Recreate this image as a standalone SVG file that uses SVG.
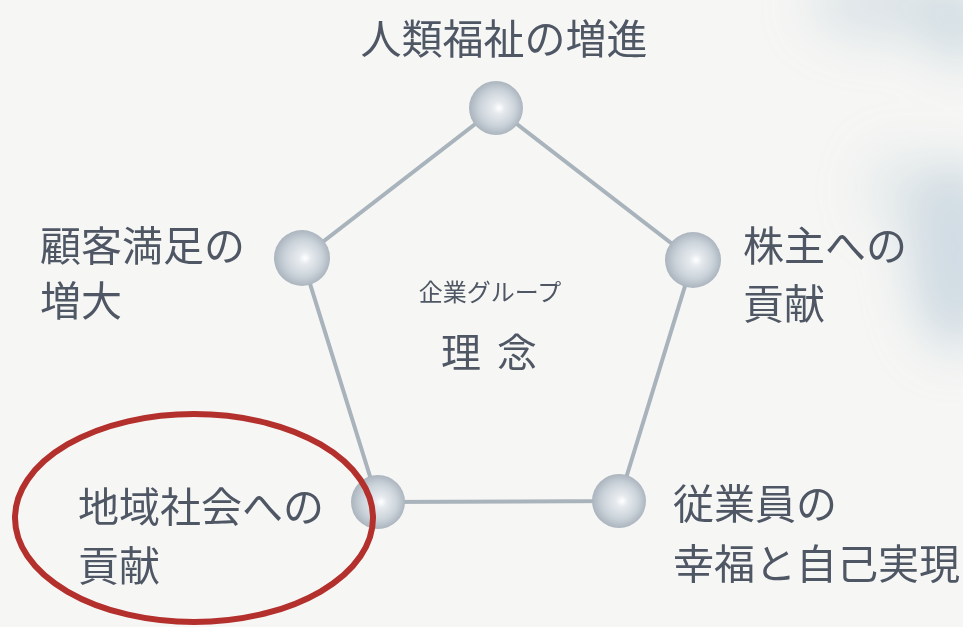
<svg xmlns="http://www.w3.org/2000/svg" width="963" height="627" viewBox="0 0 963 627">
<style>
.lbl{font-family:"Noto Sans CJK JP","Noto Sans CJK SC",sans-serif;font-size:41px;fill:#4f5765;}
.sub{font-family:"Noto Sans CJK JP","Noto Sans CJK SC",sans-serif;font-size:24px;fill:#4f5765;}
.big{font-family:"Noto Sans CJK JP","Noto Sans CJK SC",sans-serif;font-size:40px;fill:#4f5765;}
.edge{stroke:#a9b3bb;stroke-width:4;fill:none;stroke-linecap:round;}
.ball{fill:url(#sphere);}
</style>
<defs>
<radialGradient id="sphere" cx="0.5" cy="0.5" r="0.55" fx="0.56" fy="0.5">
<stop offset="0" stop-color="#ffffff"/>
<stop offset="0.2" stop-color="#e6eaee"/>
<stop offset="0.6" stop-color="#cbd3da"/>
<stop offset="1" stop-color="#a2acb6"/>
</radialGradient>
<filter id="blur" x="-50%" y="-50%" width="200%" height="200%">
<feGaussianBlur stdDeviation="24"/>
</filter>
</defs>
<rect width="963" height="627" fill="#f6f6f4"/>
<g id="clouds" filter="url(#blur)" fill="#c6d5de">
<ellipse cx="890" cy="5" rx="80" ry="35" opacity="0.55"/>
<ellipse cx="960" cy="25" rx="35" ry="40" opacity="0.7"/>
<ellipse cx="955" cy="255" rx="45" ry="95" opacity="0.8"/>
<ellipse cx="900" cy="190" rx="35" ry="40" opacity="0.35"/>
</g>
<g id="connectors">
<polygon class="edge" points="496,108 693,260 619,501 378,502 302,258"/>
</g>
<g id="node-top">
<circle class="ball" cx="496" cy="108" r="27"/>
<text class="lbl" x="504" y="54" text-anchor="middle">人類福祉の増進</text>
</g>
<g id="node-left">
<circle class="ball" cx="302" cy="258" r="28"/>
<text class="lbl" x="40" y="261">顧客満足の<tspan x="40" dy="55">増大</tspan></text>
</g>
<g id="node-right">
<circle class="ball" cx="693" cy="260" r="28"/>
<text class="lbl" x="743" y="261">株主への<tspan x="743" dy="58">貢献</tspan></text>
</g>
<g id="node-bottom-right">
<circle class="ball" cx="619" cy="501" r="27"/>
<text class="lbl" x="673" y="519">従業員の<tspan x="673" dy="60">幸福と自己実現</tspan></text>
</g>
<g id="node-bottom-left">
<circle class="ball" cx="378" cy="502" r="27"/>
<text class="lbl" x="78" y="522">地域社会への<tspan x="78" dy="59">貢献</tspan></text>
</g>
<g id="center">
<text class="sub" x="490" y="301" text-anchor="middle">企業グループ</text>
<text class="big" x="461" y="367" text-anchor="middle">理</text>
<text class="big" x="517" y="367" text-anchor="middle">念</text>
</g>
<g id="highlight">
<ellipse cx="194" cy="518" rx="179" ry="104" fill="none" stroke="#b3302d" stroke-width="6"/>
</g>
</svg>
